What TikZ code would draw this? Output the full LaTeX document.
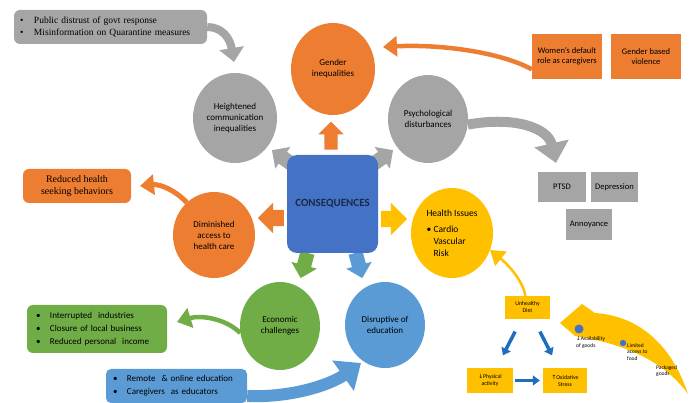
\documentclass[tikz,border=0pt]{standalone}
\usepackage{fontspec}
\setmainfont{Carlito}
\newfontfamily\serif{Liberation Serif}
\newfontfamily\sym{DejaVu Sans}
\usetikzlibrary{shapes.geometric,shapes.arrows,arrows.meta}
\definecolor{cOr}{HTML}{ED7D31}
\definecolor{cGr}{HTML}{A5A5A5}
\definecolor{cBl}{HTML}{4472C4}
\definecolor{cLb}{HTML}{5B9BD5}
\definecolor{cGn}{HTML}{70AD47}
\definecolor{cYe}{HTML}{FFC000}
\definecolor{cAr}{HTML}{1F6FBF}
\definecolor{cTx}{HTML}{1B2A4A}
\tikzset{
  circ/.style={ellipse, draw=none, align=center, inner sep=0pt, font=\fontsize{9}{11}\selectfont},
  sbox/.style={rectangle, draw=none, align=center, inner sep=0pt, font=\fontsize{8.5}{10}\selectfont},
  tiny/.style={rectangle, draw=none, align=center, inner sep=0pt, fill=cYe, font=\fontsize{5.8}{7}\selectfont},
  blk/.style={single arrow, draw=none, inner xsep=0pt},
  curv/.style={line cap=butt},
  blueArr/.style={cAr, line width=3.5pt, -{Triangle[length=7pt,width=10pt]}},
  lbl/.style={anchor=north west, inner sep=0pt, align=left, font=\fontsize{5.5}{6.8}\selectfont}
}
\newcommand{\bul}{\makebox[14pt][l]{\textbullet}}
\begin{document}
\begin{tikzpicture}[x=1pt,y=-1pt]
\useasboundingbox (0,0) rectangle (694,403);

% ---- block arrows out of CONSEQUENCES (drawn first, tails under box)
\node[blk, fill=cOr, minimum height=28pt, inner ysep=6.5pt, single arrow head extend=6pt, rotate=90] (aUp) at (331,139) {};
\node[blk, fill=cGr, minimum height=27pt, inner ysep=7pt, single arrow head extend=6pt, rotate=145] (aTL) at (286,160) {};
\node[blk, fill=cGr, minimum height=27pt, inner ysep=7pt, single arrow head extend=6pt, rotate=35] (aTR) at (379,160) {};
\node[blk, fill=cOr, minimum height=26pt, inner ysep=8pt, single arrow head extend=7pt, rotate=180] (aL) at (275,218) {};
\node[blk, fill=cYe, minimum height=26pt, inner ysep=8pt, single arrow head extend=8pt, rotate=0] (aR) at (390,219) {};
\node[blk, fill=cGn, minimum height=26pt, inner ysep=7pt, single arrow head extend=6pt, rotate=-105] (aDL) at (305,262) {};
\node[blk, fill=cLb, minimum height=26pt, inner ysep=7pt, single arrow head extend=6pt, rotate=-75] (aDR) at (358,262) {};

% ---- central box
\node[rectangle, rounded corners=10pt, fill=cBl, minimum width=91pt, minimum height=98pt,
      font=\fontsize{11}{13}\selectfont\bfseries, text=cTx] (cons) at (332.5,204) {CONSEQUENCES};

% ---- circles
\node[circ, fill=cOr, minimum width=84pt, minimum height=92pt] (gender) at (333,69) {Gender\\inequalities};
\node[circ, fill=cGr, minimum width=84pt, minimum height=90pt] (comm) at (235,118) {Heightened\\communication\\inequalities};
\node[circ, fill=cGr, minimum width=80pt, minimum height=88pt] (psych) at (428,119) {Psychological\\disturbances};
\node[circ, fill=cOr, minimum width=82pt, minimum height=86pt] (dimin) at (214,235) {Diminished\\access to\\health care};
\node[circ, fill=cYe, minimum width=82pt, minimum height=90pt, align=left, font=\fontsize{9.5}{12}\selectfont] (health) at (452,233)
  {Health Issues\\[4pt]\makebox[7pt][l]{\textbullet}Cardio\\\hspace*{7pt}Vascular\\\hspace*{7pt}Risk};
\node[circ, fill=cGn, minimum width=80pt, minimum height=88pt] (econ) at (280,326) {Economic\\challenges};
\node[circ, fill=cLb, minimum width=80pt, minimum height=86pt] (edu) at (385,325) {Disruptive of\\education};

% ---- text boxes
\node[rectangle, rounded corners=6pt, fill=cGr, text width=181pt, inner xsep=6pt, minimum height=34pt,
      align=left, font=\serif\fontsize{9.5}{12.5}\selectfont] (tl) at (110.5,27)
  {\bul Public distrust of govt response\\\bul Misinformation on Quarantine measures};
\node[sbox, fill=cOr, minimum width=70pt, minimum height=45pt] (women) at (567,56.5) {Women's default\\role as caregivers};
\node[sbox, fill=cOr, minimum width=70pt, minimum height=45pt] (gbv) at (646,56.5) {Gender based\\violence};
\node[sbox, fill=cGr, minimum width=48pt, minimum height=30pt] (ptsd) at (562,187) {PTSD};
\node[sbox, fill=cGr, minimum width=47pt, minimum height=30pt] (dep) at (614.5,187) {Depression};
\node[sbox, fill=cGr, minimum width=46pt, minimum height=31pt] (ann) at (589,224.5) {Annoyance};
\node[rectangle, rounded corners=6pt, fill=cOr, minimum width=108pt, minimum height=34pt, align=center,
      font=\serif\fontsize{10}{12}\selectfont] (rhs) at (77,186) {Reduced health\\seeking behaviors};
\node[rectangle, rounded corners=6pt, fill=cGn, text width=122pt, inner xsep=9pt, minimum height=48pt,
      align=left, font=\fontsize{9}{13}\selectfont] (gbox) at (97,329)
  {\bul Interrupted\ \ industries\\\bul Closure of local business\\\bul Reduced personal\ \ income};
\node[rectangle, rounded corners=5pt, fill=cLb, text width=127pt, inner xsep=7pt, minimum height=34pt,
      align=left, font=\fontsize{9}{13}\selectfont] (ebox) at (176.5,386)
  {\bul Remote\ \ \& online education\\\bul Caregivers\ \ as educators};

% ---- small yellow diagram
\node[tiny, minimum width=45pt, minimum height=23pt] (diet) at (527.5,307.5) {Unhealthy\\Diet};
\node[tiny, minimum width=46pt, minimum height=25pt] (phys) at (490,380.5) {{\sym ↓}Physical\\activity};
\node[tiny, minimum width=44pt, minimum height=25pt] (oxid) at (565,380.5) {{\sym ↑}Oxidative\\Stress};
\draw[blueArr, shorten <=14pt, shorten >=14pt] (diet) -- (phys);
\draw[blueArr, shorten <=14pt, shorten >=14pt] (diet) -- (oxid);
\draw[blueArr, shorten <=2pt, shorten >=3pt] (phys) -- (oxid);

% ---- curved connectors
\coordinate (eTL) at (234,62);
\coordinate (eGen) at (383,47);
\coordinate (ePsy) at (556,163);
\coordinate (eRhs) at (140,186);
\coordinate (eEco) at (177,322);
\coordinate (eEdu) at (361,363);
\coordinate (eHea) at (490,250);

\draw[curv, cGr, line width=8pt, -{Triangle[length=14pt,width=24pt]}] (tl.east) .. controls (222,27) and (230,38) .. (eTL);
\draw[curv, cOr, line width=4.5pt, -{Triangle[length=14pt,width=20pt]}] (women.-160) .. controls (500,52) and (440,44) .. (eGen);
\draw[curv, cGr, line width=10pt, -{Triangle[length=20pt,width=34pt]}] (psych.-8) .. controls (515,116) and (548,128) .. (ePsy);
\draw[curv, cOr, line width=5pt, -{Triangle[length=14pt,width=20pt]}] (dimin.130) .. controls (175,190) and (160,184) .. (eRhs);
\draw[curv, cGn, line width=4.5pt, -{Triangle[length=14pt,width=20pt]}] (econ.190) .. controls (225,318) and (200,315) .. (eEco);
\draw[curv, cLb, line width=12pt, -{Triangle[length=22pt,width=36pt]}] (ebox.-8) .. controls (290,398) and (330,385) .. (eEdu);
\draw[curv, cYe, line width=2.5pt, -{Triangle[length=14pt,width=18pt]}] (diet.100) .. controls (522,278) and (505,262) .. (eHea);

% ---- big tapered yellow arrow towards Unhealthy Diet
\coordinate (yTail) at (688,394);
\coordinate (yTip) at (560,323);
\fill[cYe] (yTail) .. controls (672,346) and (640,316) .. (595,313)
  -- (582,304) -- (yTip) -- (575,336)
  .. controls (612,342) and (660,355) .. (yTail) -- cycle;

% ---- labels on the big yellow arrow
\fill[cBl] (579,329) circle (4.5pt);
\fill[cBl] (623,343) circle (3.2pt);
\node[lbl] (lAv) at (576,336) {{\sym ↓}Availability\\of goods};
\node[lbl] (lLim) at (627,343) {Limited\\access to\\food};
\node[lbl] (lPac) at (656,365) {Packaged\\goods};
\end{tikzpicture}
\end{document}
